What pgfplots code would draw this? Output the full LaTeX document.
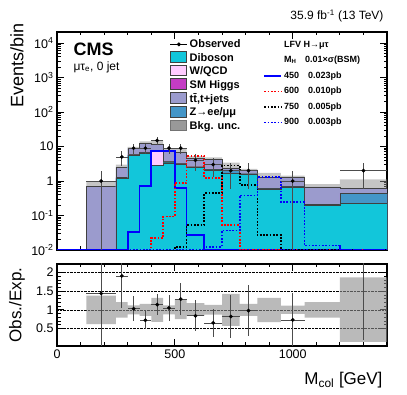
\documentclass[border=0pt]{standalone}
\usepackage{fontspec}
\setmainfont{Liberation Sans}
\usepackage{pgfplots}
\usepackage{pgfplotstable}
\usepgfplotslibrary{fillbetween}
\pgfplotsset{compat=1.18}

\definecolor{dibcol}{RGB}{18,198,218}
\definecolor{wcol}{RGB}{255,204,255}
\definecolor{hcol}{RGB}{196,60,196}
\definecolor{ttcol}{RGB}{155,155,205}
\definecolor{zcol}{RGB}{68,150,200}

% cumulative stack tops (bin left edge)
\pgfplotstableread{
x dib dibz w h tt
125 1e-4 1e-4 1e-4 1e-4 1e-4
125 1e-4 1e-4 1e-4 1e-4 0.69
250 1.2 1.22 1.27 1.29 2.5
300 5.5 5.6 5.75 5.85 8.8
350 6.5 6.6 6.9 7.0 12.3
400 2.8 2.85 7.5 7.6 11.5
450 3.4 3.45 3.6 3.65 8.0
500 3.0 3.05 3.15 3.2 6.8
550 2.5 2.55 2.6 2.62 4.5
625 2.1 2.2 2.25 2.27 4.3
700 1.7 2.0 2.02 2.04 2.4
775 1.6 1.62 1.63 1.64 2.0
850 0.58 0.59 0.6 0.6 1.3
950 0.67 0.68 0.69 0.69 1.3
1050 0.2 0.21 0.21 0.21 0.68
1200 0.23 0.43 0.43 0.43 0.6
1400 0.23 0.43 0.43 0.43 0.6
1400 1e-4 1e-4 1e-4 1e-4 1e-4
}\stack

\pgfplotstableread{
x lo hi
125 0.43 0.95
250 2.0 3.0
300 7.74 9.86
350 10.46 14.15
400 7.82 15.18
450 7.04 8.96
500 5.1 8.5
550 3.83 5.27
625 3.74 4.86
700 1.37 3.43
775 1.76 2.24
850 0.87 1.73
950 1.17 1.43
1050 0.54 0.82
1200 0.3 1.12
1400 0.3 1.12
}\unc

\pgfplotstableread{
x lo hi
125 0.62 1.38
250 0.79 1.21
300 0.88 1.12
350 0.84 1.16
400 0.68 1.32
450 0.88 1.12
500 0.75 1.28
550 0.84 1.18
625 0.87 1.13
700 0.57 1.43
775 0.84 1.16
850 0.67 1.32
950 0.89 1.11
1050 0.79 1.21
1200 0.14 1.87
1400 0.14 1.87
}\runc

\pgfplotstableread{
x y ex eyp eym
187.5 1 62.5 1 0.999
275 5 25 2.24 2.24
325 9 25 3 3
375 9 25 3 3
425 15 25 3.87 3.87
475 9 25 3 3
525 9 25 3 3
587.5 4 37.5 2 2
662.5 3 37.5 1.73 1.73
737.5 2 37.5 1.41 1.41
812.5 2 37.5 1.41 1.41
1000 1 50 1 0.999
1300 2 100 1.41 1.41
}\obs

\pgfplotstableread{
x y ex eyp eym
187.5 1.44 62.5 1.44 1.43
275 1.91 25 0.85 0.85
325 1.03 25 0.34 0.34
375 0.72 25 0.24 0.24
425 1.14 25 0.29 0.29
475 1.05 25 0.35 0.35
525 1.29 25 0.43 0.43
587.5 0.84 37.5 0.42 0.42
662.5 0.65 37.5 0.37 0.37
737.5 0.82 37.5 0.58 0.58
812.5 0.98 37.5 0.69 0.69
1000 0.73 50 0.72 0.72
1300 3.3 100 0 3.1
}\ratio

% signals
\pgfplotstableread{
x y
0 0.0102
300 0.034
350 0.72
400 7.5
450 7.5
500 0.62
550 0.027
625 0.0102
1400 0.0102
}\sigA
\pgfplotstableread{
x y
0 0.0102
400 0.022
450 0.093
500 0.87
550 5.4
625 1.25
700 0.053
775 0.0102
1400 0.0102
}\sigB
\pgfplotstableread{
x y
0 0.0102
500 0.0125
550 0.053
625 0.44
700 2.8
775 0.78
850 0.027
950 0.0102
1400 0.0102
}\sigC
\pgfplotstableread{
x y
0 0.0102
625 0.0125
700 0.037
775 0.38
850 1.3
950 0.25
1050 0.0135
1200 0.0102
1400 0.0102
}\sigD

\tikzset{
  sigdot/.style={dash pattern=on 1.7pt off 1.6pt, line width=1.7pt},
}

\pgfplotsset{
  cmsframe/.style={
    scale only axis, width=330pt,
    xmin=0, xmax=1400,
    axis line style={line width=1.1pt},
    tick style={line width=0.8pt, black},
    major tick length=7pt, minor tick length=3.5pt,
    tick label style={font=\fontsize{12.5}{14}\selectfont},
    /pgf/number format/assume math mode=true,
    /pgf/number format/1000 sep={},
    xtick={0,500,1000}, minor xtick={100,200,...,1400},
  },
  stk/.style={const plot, draw=black!75, line width=0.4pt, forget plot},
  errs/.style={only marks, mark=*, mark size=1.7pt, black,
    error bars/.cd, x dir=both, x explicit, y dir=both, y explicit,
    error mark=none, error bar style={black!70, line width=0.7pt}},
  boxleg/.style={legend image code/.code={\draw[##1] (0cm,-0.15cm) rectangle (0.55cm,0.22cm);}},
}

\begin{document}
\begin{tikzpicture}
\begin{axis}[cmsframe, name=top, height=218pt,
  ymode=log, ymin=0.01, ymax=2.1e4,
  xticklabels={},
  ytick={0.01,0.1,1,10,100,1000,10000},
  yticklabels={10\textsuperscript{-2},10\textsuperscript{-1},1,10,10\textsuperscript{2},10\textsuperscript{3},10\textsuperscript{4}},
  legend style={at={(0.342,0.975)}, anchor=north west, draw=none, fill=none,
    font=\bfseries\fontsize{11}{12}\selectfont, row sep=0pt, inner sep=0pt},
  legend cell align=left,
]
\addplot[stk, fill=ttcol] table[x=x, y=tt] {\stack};
\addplot[stk, fill=hcol] table[x=x, y=h] {\stack};
\addplot[stk, fill=wcol] table[x=x, y=w] {\stack};
\addplot[stk, fill=zcol] table[x=x, y=dibz] {\stack};
\addplot[stk, fill=dibcol] table[x=x, y=dib] {\stack};

\addplot[name path=uhi, const plot, draw=none, forget plot] table[x=x, y=hi] {\unc};
\addplot[name path=ulo, const plot, draw=none, forget plot] table[x=x, y=lo] {\unc};
\addplot[fill=black!45, fill opacity=0.5, forget plot] fill between[of=uhi and ulo];

\addplot[const plot, blue, line width=1.7pt, forget plot] table {\sigA};
\addplot[const plot, red, sigdot, forget plot] table {\sigB};
\addplot[const plot, black, sigdot, forget plot] table {\sigC};
\addplot[const plot, blue, sigdot, forget plot] table {\sigD};

\addplot[forget plot, errs] table[x=x, y=y, x error=ex, y error plus=eyp, y error minus=eym] {\obs};

\addlegendimage{black, mark=*, mark size=1.6pt, line width=0.6pt}
\addlegendentry{Observed}
\addlegendimage{boxleg, fill=dibcol, draw=black!75}
\addlegendentry{Diboson}
\addlegendimage{boxleg, fill=wcol, draw=black!75}
\addlegendentry{W/QCD}
\addlegendimage{boxleg, fill=hcol, draw=black!75}
\addlegendentry{SM Higgs}
\addlegendimage{boxleg, fill=ttcol, draw=black!75}
\addlegendentry{t\={t},t+jets}
\addlegendimage{boxleg, fill=zcol, draw=black!75}
\addlegendentry{Z→ee/μμ}
\addlegendimage{boxleg, fill=black!40, draw=black!55}
\addlegendentry{Bkg. unc.}

\coordinate (TL) at (rel axis cs:0,1);
\coordinate (TR) at (rel axis cs:1,1);
\coordinate (TBL) at (rel axis cs:0,0);
\end{axis}

\begin{axis}[scale only axis, width=330pt, height=218pt, at={(TBL)}, anchor=south west,
  hide axis, xmin=0, xmax=1400, ymode=log, ymin=0.01, ymax=2.1e4,
  legend style={at={(0.625,0.968)}, anchor=north west, draw=none, fill=none,
    font=\bfseries\fontsize{9}{10}\selectfont, row sep=3.5pt, inner sep=0pt},
  legend cell align=left,
]
\addlegendimage{empty legend}
\addlegendentry{LFV H→μτ}
\addlegendimage{empty legend}
\addlegendentry{\makebox[21pt][l]{M\textsubscript{H}}0.01×σ(BSM)}
\addlegendimage{blue, line width=1.7pt}
\addlegendentry{\makebox[24pt][l]{450}0.023pb}
\addlegendimage{red, sigdot}
\addlegendentry{\makebox[24pt][l]{600}0.010pb}
\addlegendimage{black, sigdot}
\addlegendentry{\makebox[24pt][l]{750}0.005pb}
\addlegendimage{blue, sigdot}
\addlegendentry{\makebox[24pt][l]{900}0.003pb}
\end{axis}

\begin{axis}[cmsframe, name=bot, height=82pt, at={(TBL)}, anchor=north west, yshift=-14pt,
  ymin=0.03, ymax=2.23,
  ytick={0.5,1,1.5,2}, minor y tick num=4,
  ymajorgrids, grid style={densely dotted, black, line width=0.5pt},
]
\addplot[name path=rhi, const plot, draw=none, forget plot] table[x=x, y=hi] {\runc};
\addplot[name path=rlo, const plot, draw=none, forget plot] table[x=x, y=lo] {\runc};
\addplot[fill=black!45, fill opacity=0.6, forget plot] fill between[of=rhi and rlo];
\addplot[errs] table[x=x, y=y, x error=ex, y error plus=eyp, y error minus=eym] {\ratio};
\coordinate (BR) at (rel axis cs:1,0);
\coordinate (BM) at (rel axis cs:0,0.5);
\coordinate (BL) at (rel axis cs:0,0);
\end{axis}

\node[rotate=90, anchor=east, font=\fontsize{18}{20}\selectfont] at ([xshift=-40pt,yshift=12pt]TL) {Events/bin};
\node[rotate=90, font=\fontsize{17}{19}\selectfont] at ([xshift=-40pt]BM) {Obs./Exp.};
\node[anchor=east, font=\fontsize{17}{19}\selectfont] at ([xshift=-1pt,yshift=-34pt]BR) {M\textsubscript{col} [GeV]};
\node[anchor=base east, font=\fontsize{12}{14}\selectfont] at ([yshift=12pt]TR) {35.9 fb\textsuperscript{-1} (13 TeV)};
\node[anchor=west, font=\bfseries\fontsize{18}{20}\selectfont] at ([xshift=13pt,yshift=-17pt]TL) {CMS};
\node[anchor=west, font=\fontsize{12}{14}\selectfont] at ([xshift=13pt,yshift=-35pt]TL) {μτ\textsubscript{e}, 0 jet};

\pgfresetboundingbox
\useasboundingbox ([xshift=-57pt,yshift=32pt]TL) rectangle ([xshift=20pt,yshift=-49pt]BR);
\end{tikzpicture}
\end{document}
